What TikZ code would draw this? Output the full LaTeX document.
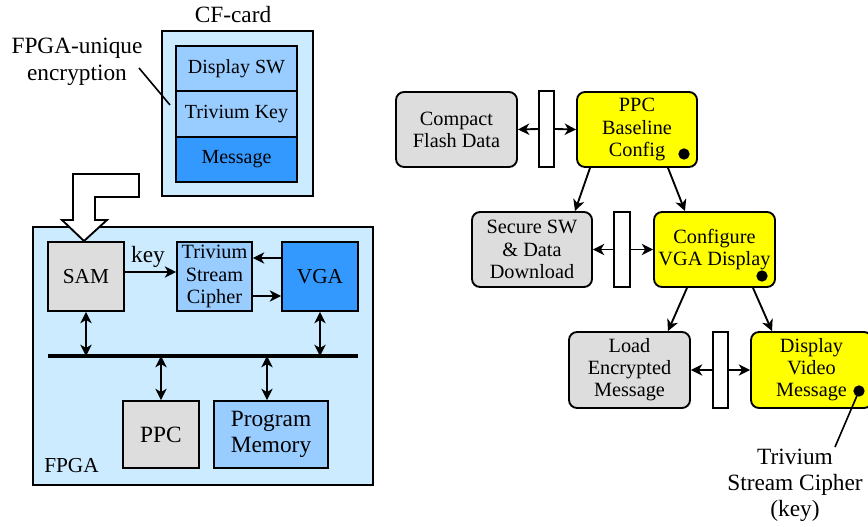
\documentclass[tikz,border=0pt]{standalone}
\usepackage{fontspec}
\setmainfont{Liberation Serif}
\usetikzlibrary{arrows.meta}
\definecolor{lightbg}{HTML}{CCEBFF}
\definecolor{midblue}{HTML}{99CCFF}
\definecolor{darkblue}{HTML}{3399FF}
\definecolor{grayfill}{HTML}{DDDDDD}
\definecolor{yel}{HTML}{FFFF00}
\newcommand{\fA}{\fontsize{17.5}{19.5}\selectfont}
\newcommand{\fB}{\fontsize{16}{18}\selectfont}
\newcommand{\fC}{\fontsize{15}{17}\selectfont}
\newcommand{\fD}{\fontsize{15.2}{16.6}\selectfont}
\tikzset{
  wh/.style 2 args={minimum width=#1*0.75pt, minimum height=#2*0.75pt},
  blk/.style={draw, line width=1.4pt, inner sep=0pt, align=center},
  rbox/.style={blk, rounded corners=6pt, font=\fD},
  bar/.style={draw, line width=1.4pt, fill=white, inner sep=0pt},
  tip/.style={Stealth[length=8.5pt,width=8.5pt,inset=2.5pt]},
  arr/.style={line width=1.4pt, -{Stealth[length=8.5pt,width=8.5pt,inset=2.5pt]}},
  darr/.style={line width=1.4pt, {Stealth[length=8.5pt,width=8.5pt,inset=2.5pt]}-{Stealth[length=8.5pt,width=8.5pt,inset=2.5pt]}},
  dot/.style={circle, fill=black, inner sep=0pt, minimum size=8.5pt},
}
\begin{document}
\begin{tikzpicture}[x=0.75pt,y=-0.75pt]
\useasboundingbox (0,0) rectangle (868,527);
% ---------- CF card ----------
\node[blk, fill=lightbg, wh={151}{165}] (cf) at (237.5,113.5) {};
\node[font=\fA, anchor=base, inner sep=0pt] (cflbl) at (233,23) {CF-card};
\node[blk, fill=midblue, font=\fC, wh={121}{45}] (dsw) at (236.5,68.5) {Display SW};
\node[blk, fill=midblue, font=\fC, wh={121}{46}] (tkey) at (236.5,114) {Trivium Key};
\node[blk, fill=darkblue, font=\fC, wh={121}{45}] (msg) at (236.5,159.5) {Message};
\node[font=\fA, align=center, inner sep=0pt] (enc) at (77,62) {FPGA-unique\\[1pt]encryption};
\coordinate (encA) at (139,68);
\coordinate (encB) at (170,105);
\draw[line width=1.2pt] (encA) -- (encB);
% ---------- FPGA ----------
\node[blk, fill=lightbg, wh={340}{258}] (fpga) at (203,356) {};
\node[font=\fB, anchor=base west, inner sep=0pt] (fpgalbl) at (44,472) {FPGA};
% hollow arrow
\draw[line width=1.4pt, fill=white] (73,174) -- (139,174) -- (139,197) -- (95,197) -- (95,220) -- (107,220) -- (84,241) -- (62,220) -- (73,220) -- cycle;
\node[blk, fill=grayfill, font=\fB, wh={76}{69}] (sam) at (86,276.5) {SAM};
\node[blk, fill=midblue, font=\fD, wh={75}{69}] (tsc) at (214.5,276.5) {Trivium\\Stream\\Cipher};
\node[blk, fill=darkblue, font=\fB, wh={76}{69}] (vga) at (320,276.5) {VGA};
\node[blk, fill=grayfill, font=\fA, wh={76}{67}] (ppc) at (161,434.5) {PPC};
\node[blk, fill=midblue, font=\fA, wh={114}{67}] (pm) at (271,434.5) {Program\\Memory};
\draw[arr] (sam.east|-0,272) -- (tsc.west|-0,272);
\node[font=\fA, anchor=base, inner sep=0pt] (keylbl) at (148,263) {key};
\draw[arr] (vga.west|-0,258) -- (tsc.east|-0,258);
\draw[arr] (tsc.east|-0,296) -- (vga.west|-0,296);
\coordinate (busL) at (48,356);
\coordinate (busR) at (358,356);
\draw[line width=2.6pt] (busL) -- (busR);
\draw[darr] (sam.south) -- (sam.south|-busL);
\draw[darr] (vga.south) -- (vga.south|-busL);
\draw[darr] (ppc.north) -- (ppc.north|-busL);
\draw[darr] (pm.north-|267,0) -- (267,356);
% ---------- Right flow ----------
\node[rbox, fill=grayfill, wh={121}{75}] (cfd) at (456.5,129.5) {Compact\\Flash Data};
\node[bar, wh={15}{76}] (bar1) at (546.5,129) {};
\node[rbox, fill=yel, wh={120}{75}] (pbc) at (637,129.5) {PPC\\Baseline\\Config};
\node[rbox, fill=grayfill, wh={120}{75}] (ssw) at (532,249.5) {Secure SW\\\& Data\\Download};
\node[bar, wh={16}{75}] (bar2) at (622,249.5) {};
\node[rbox, fill=yel, wh={121}{75}] (cvga) at (714.5,249.5) {Configure\\VGA Display};
\node[rbox, fill=grayfill, wh={121}{76}] (lem) at (629.5,370) {Load\\Encrypted\\Message};
\node[bar, wh={15}{76}] (bar3) at (720.5,370) {};
\node[rbox, fill=yel, wh={121}{76}] (dvm) at (811.5,370) {Display\\Video\\Message};
\node[dot] (d1) at (684,154) {};
\node[dot] (d2) at (762,276) {};
\node[dot] (d3) at (859,391) {};
\draw[arr] (bar1.west) -- (cfd.east);
\draw[arr] (bar1.east) -- (pbc.west);
\draw[arr] (bar2.west) -- (ssw.east);
\draw[arr] (bar2.east) -- (cvga.west);
\draw[arr] (bar3.west) -- (lem.east);
\draw[arr] (bar3.east) -- (dvm.west);
\draw[arr] (pbc.south-|590,0) -- (ssw.north-|575,0);
\draw[arr] (pbc.south-|668,0) -- (cvga.north-|685,0);
\draw[arr] (cvga.south-|687,0) -- (lem.north-|668,0);
\draw[arr] (cvga.south-|753,0) -- (dvm.north-|772,0);
\coordinate (callout) at (835,447);
\draw[line width=1.2pt] (d3.center) -- (callout);
\node[font=\fA, align=center, inner sep=0pt] (tlbl) at (795,485) {Trivium\\Stream Cipher\\(key)};
\end{tikzpicture}
\end{document}
